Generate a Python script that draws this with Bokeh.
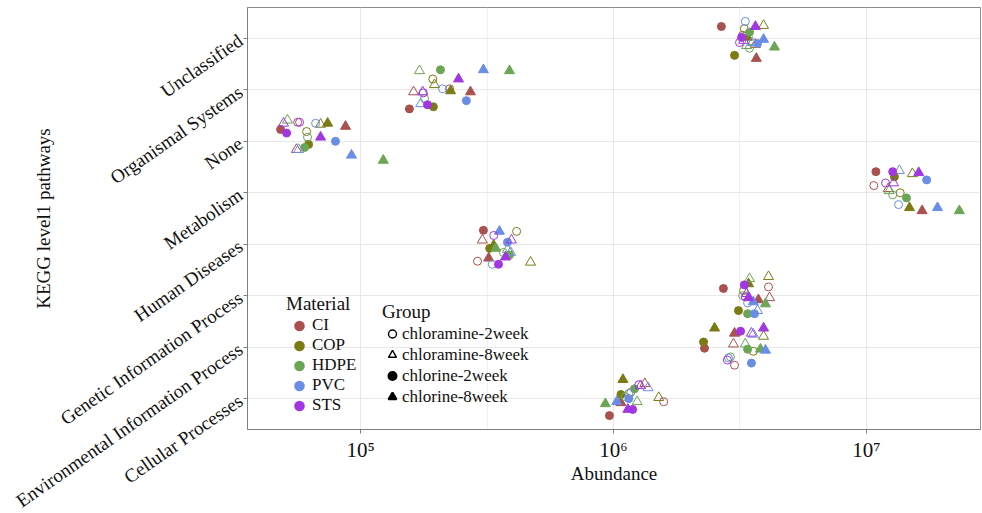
import math
from bokeh.plotting import figure
from bokeh.models import ColumnDataSource, FixedTicker, Legend, LegendItem
from bokeh.embed import file_html
from bokeh.resources import INLINE

# ---------------- data ----------------
pathways = ["Cellular Processes", "Environmental Information Process",
            "Genetic Information Process", "Human Diseases", "Metabolism",
            "None", "Organismal Systems", "Unclassified"]
materials = ["CI", "COP", "HDPE", "PVC", "STS"]
material_colors = ["#A8514E", "#7B7B14", "#6AA653", "#6A8DE6", "#A236E0"]
groups = ["chloramine-2week", "chloramine-8week", "chlorine-2week", "chlorine-8week"]

x_ticks = [100000, 1000000, 10000000]
x_tick_labels = ["10\u2075", "10\u2076", "10\u2077"]
x_minor_ticks = [10 ** 5.5, 10 ** 6.5]

# abundance per pathway, order: material (CI, COP, HDPE, PVC, STS) x group (4)
abund_cellular = [1.58e6, 1.33e6, 9.64e5, 1.07e6, 1.17e6, 1.51e6, 1.07e6, 1.09e6,
                  1.11e6, 1.24e6, 1.21e6, 9.29e5, 1.15e6, 1.37e6, 1.15e6, 1.03e6,
                  1.26e6, 1.28e6, 1.19e6, 1.14e6]
jit_cellular = [-0.06, 0.29, -0.33, -0.08, 0.12, 0.02, 0.08, 0.37,
                0.04, -0.06, 0.19, -0.10, 0.10, 0.21, 0.00, -0.06,
                0.27, 0.25, -0.21, -0.21]

abund_env = [3.01e6, 2.98e6, 2.29e6, 3.01e6, 3.57e6, 3.92e6, 2.27e6, 2.51e6,
             2.90e6, 3.32e6, 3.39e6, 3.81e6, 2.85e6, 3.57e6, 3.51e6, 3.99e6,
             2.82e6, 3.51e6, 3.18e6, 3.92e6]
jit_env = [-0.35, 0.06, -0.02, 0.27, -0.08, 0.21, 0.10, 0.37,
           -0.19, 0.06, -0.04, -0.04, -0.21, 0.25, -0.31, -0.06,
           -0.25, 0.27, 0.31, 0.37]

abund_genetic = [4.10e6, 4.14e6, 2.72e6, 3.74e6, 3.27e6, 4.10e6, 3.12e6, 3.42e6,
                 3.24e6, 3.45e6, 3.39e6, 3.99e6, 3.39e6, 3.71e6, 3.61e6, 3.57e6,
                 3.32e6, 3.36e6, 3.29e6, 3.42e6]
jit_genetic = [0.17, -0.04, 0.14, -0.08, 0.10, 0.37, -0.29, 0.23,
               0.00, 0.33, -0.35, -0.16, -0.14, -0.29, -0.35, -0.12,
               -0.02, 0.04, 0.21, -0.04]

abund_human = [2.90e5, 3.03e5, 3.06e5, 3.21e5, 4.14e5, 4.70e5, 3.24e5, 3.36e5,
               3.67e5, 3.81e5, 3.88e5, 3.42e5, 3.32e5, 3.92e5, 3.81e5, 3.54e5,
               3.36e5, 3.95e5, 3.51e5, 3.74e5]
jit_human = [-0.33, 0.08, 0.27, -0.27, 0.25, -0.35, -0.08, -0.02,
             -0.16, -0.10, -0.21, -0.08, -0.39, -0.16, 0.04, 0.25,
             0.17, 0.08, -0.39, -0.25]

abund_metabolism = [1.07e7, 1.22e7, 1.09e7, 1.66e7, 1.36e7, 1.52e7, 1.29e7, 1.48e7,
                    1.27e7, 1.23e7, 1.44e7, 2.33e7, 1.34e7, 1.35e7, 1.73e7, 1.91e7,
                    1.19e7, 1.28e7, 1.27e7, 1.61e7]
jit_metabolism = [0.14, 0.08, 0.41, -0.35, 0.00, 0.37, 0.31, -0.29,
                  -0.04, 0.04, -0.10, -0.35, -0.23, 0.43, 0.25, -0.29,
                  0.19, 0.19, 0.41, 0.39]

abund_none = [5.64e4, 5.58e4, 4.83e4, 8.72e4, 6.12e4, 6.95e4, 6.23e4, 7.41e4,
              6.17e4, 5.14e4, 6.01e4, 1.23e5, 6.64e4, 5.69e4, 7.96e4, 9.21e4,
              5.74e4, 4.96e4, 5.10e4, 6.95e4]
jit_none = [0.37, -0.16, 0.23, 0.29, 0.19, 0.33, -0.06, 0.35,
            0.08, 0.41, -0.12, -0.37, 0.35, -0.16, 0.00, -0.27,
            0.37, 0.35, 0.16, 0.08]

abund_organismal = [2.25e5, 1.62e5, 1.56e5, 2.72e5, 1.93e5, 1.96e5, 1.94e5, 2.27e5,
                    1.79e5, 1.71e5, 2.07e5, 3.88e5, 2.11e5, 1.73e5, 2.62e5, 3.06e5,
                    1.77e5, 1.76e5, 1.84e5, 2.44e5]
jit_organismal = [0.02, -0.04, -0.37, -0.04, 0.21, 0.10, -0.33, -0.02,
                  -0.17, 0.37, 0.39, 0.37, 0.02, -0.27, -0.21, 0.39,
                  -0.06, -0.04, -0.29, 0.21]

abund_unclassified = [3.24e6, 3.64e6, 2.67e6, 3.67e6, 3.29e6, 3.92e6, 3.01e6, 3.39e6,
                      3.45e6, 3.36e6, 3.45e6, 4.33e6, 3.32e6, 3.54e6, 3.71e6, 3.92e6,
                      3.15e6, 3.27e6, 3.21e6, 3.64e6]
jit_unclassified = [0.06, -0.12, 0.23, -0.39, 0.19, 0.25, -0.33, 0.02,
                    -0.19, -0.14, 0.12, -0.17, 0.33, -0.08, -0.10, -0.02,
                    -0.08, -0.04, 0.02, 0.23]

abund_all = [abund_cellular, abund_env, abund_genetic, abund_human,
             abund_metabolism, abund_none, abund_organismal, abund_unclassified]
jit_all = [jit_cellular, jit_env, jit_genetic, jit_human,
           jit_metabolism, jit_none, jit_organismal, jit_unclassified]

# ---------------- styling ----------------
FONT = "Liberation Serif"
TXT = "#111111"
group_marker = {"chloramine-2week": ("circle", False),
                "chloramine-8week": ("triangle", False),
                "chlorine-2week": ("circle", True),
                "chlorine-8week": ("triangle", True)}

x_lo, x_hi = 10 ** 4.553, 10 ** 7.451

p = figure(width=982, height=513, x_axis_type="log",
           x_range=(x_lo, x_hi), y_range=(0.4, 8.6),
           output_backend="svg", toolbar_location=None,
           min_border_left=247, min_border_right=2,
           min_border_top=7, min_border_bottom=84)
p.background_fill_color = "white"
p.border_fill_color = "white"
p.outline_line_color = "#8c8c8c"
p.outline_line_width = 1

# points
for i, (m, c) in enumerate(zip(materials, material_colors)):
    for j, g in enumerate(groups):
        xs, ys = [], []
        for k in range(len(pathways)):
            idx = i * 4 + j
            xs.append(abund_all[k][idx])
            ys.append(k + 1 + jit_all[k][idx])
        mk, filled = group_marker[g]
        src = ColumnDataSource(dict(x=xs, y=ys))
        p.scatter("x", "y", source=src, marker=mk,
                  size=8 if mk == "circle" else 10,
                  fill_color=c if filled else None,
                  line_color=c, line_width=1)

# axes
p.xaxis.ticker = FixedTicker(ticks=x_ticks, minor_ticks=x_minor_ticks)
p.xaxis.major_label_overrides = {t: l for t, l in zip(x_ticks, x_tick_labels)}
p.xaxis.axis_label = "Abundance"
y_ticks = list(range(1, len(pathways) + 1))
p.yaxis.ticker = FixedTicker(ticks=y_ticks)
p.yaxis.major_label_overrides = {t: l for t, l in zip(y_ticks, pathways)}
p.yaxis.major_label_orientation = math.radians(35)
p.yaxis.axis_label = "KEGG level1 pathways"

for ax in (p.xaxis, p.yaxis):
    ax.axis_line_color = "#7f7f7f"
    ax.major_tick_line_color = "#7f7f7f"
    ax.minor_tick_line_color = None
    ax.major_tick_in = 0
    ax.major_tick_out = 4
    ax.axis_label_text_font = FONT
    ax.axis_label_text_font_size = "19px"
    ax.axis_label_text_font_style = "normal"
    ax.axis_label_text_color = TXT
    ax.major_label_text_font = FONT
    ax.major_label_text_color = TXT
p.xaxis.major_label_text_font_size = "21px"
p.xaxis.major_label_standoff = 4
p.xaxis.axis_label_standoff = -2
p.yaxis.major_label_text_font_size = "19px"
p.yaxis.major_label_standoff = 3
p.yaxis.axis_label_standoff = -51

p.xgrid.ticker = p.xaxis.ticker
p.xgrid.grid_line_color = "#e8e8e8"
p.xgrid.minor_grid_line_color = "#f0f0f0"
p.ygrid.grid_line_color = "#e8e8e8"

# legends (key renderers hold one undrawn point)
nan = float("nan")
mat_items = []
for m, c in zip(materials, material_colors):
    r = p.scatter(x=[nan], y=[nan], marker="circle", fill_color=c,
                  line_color=c, line_width=3)
    mat_items.append(LegendItem(label=m, renderers=[r]))
grp_items = []
for g in groups:
    mk, filled = group_marker[g]
    r = p.scatter(x=[nan], y=[nan], marker=mk,
                  fill_color="black" if filled else None,
                  line_color="black", line_width=2 if filled else 1.4)
    grp_items.append(LegendItem(label=g, renderers=[r]))


def style_legend(leg, gw, gh):
    leg.background_fill_alpha = 0
    leg.border_line_color = None
    leg.padding = 0
    leg.margin = 0
    leg.glyph_width = gw
    leg.glyph_height = gh
    leg.label_height = gh
    leg.spacing = 0
    leg.label_standoff = 0
    leg.title_standoff = 0
    leg.title_text_font = FONT
    leg.title_text_font_size = "19px"
    leg.title_text_font_style = "normal"
    leg.title_text_color = TXT
    leg.label_text_font = FONT
    leg.label_text_font_size = "17px"
    leg.label_text_color = TXT


leg_mat = Legend(items=mat_items, title="Material", location=(39, 14))
style_legend(leg_mat, 26, 19)
leg_grp = Legend(items=grp_items, title="Group", location=(135, 22))
style_legend(leg_grp, 20, 21)
p.add_layout(leg_mat)
p.add_layout(leg_grp)

open("out.html", "w").write(file_html(p, INLINE))
